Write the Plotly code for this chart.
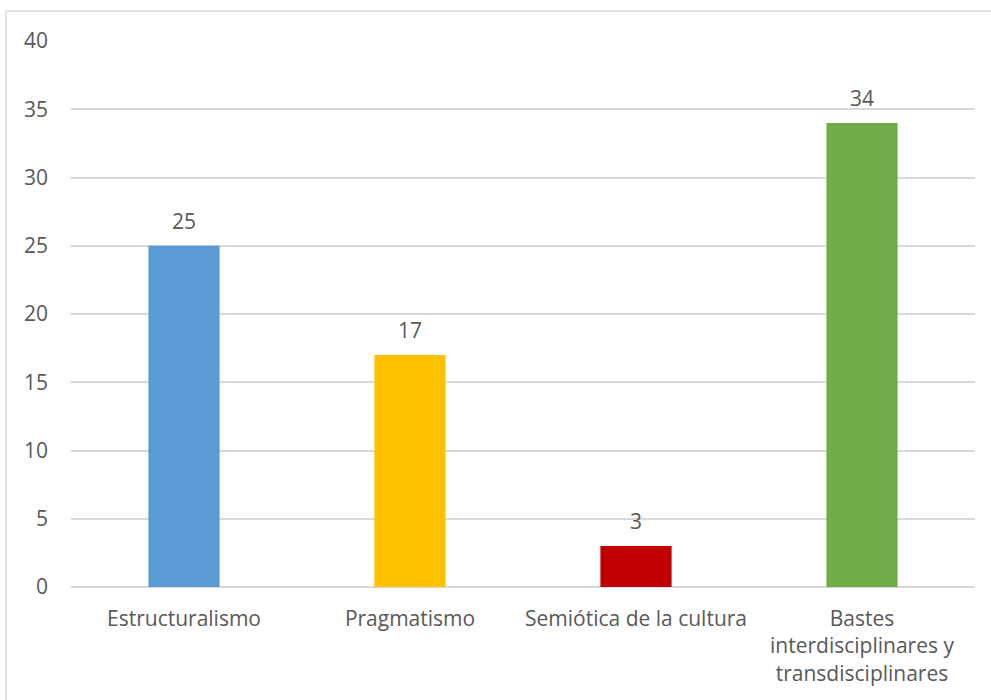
import plotly.graph_objects as go

categories = [
    "Estructuralismo",
    "Pragmatismo",
    "Semiótica de la cultura",
    "Bastes<br>interdisciplinares y<br>transdisciplinares",
]
values = [25, 17, 3, 34]
bar_colors = ["#5B9BD5", "#FFC000", "#C00000", "#70AD47"]
y_ticks = [0, 5, 10, 15, 20, 25, 30, 35, 40]

FONT = "Open Sans"
TEXT = "#595959"
SIZE = 21

fig = go.Figure()
fig.add_trace(go.Bar(
    x=categories,
    y=values,
    marker=dict(color=bar_colors, line=dict(width=0)),
    width=0.315,
    hoverinfo="x+y",
))

# value labels above each bar
for c, v in zip(categories, values):
    fig.add_annotation(
        x=c, y=v, text=str(v), showarrow=False,
        yanchor="bottom", yshift=9,
        font=dict(family=FONT, size=SIZE, color=TEXT),
    )

# outer chart frame
fig.add_shape(
    type="rect", xref="paper", yref="paper",
    x0=-0.0719, x1=1.2, y0=-0.4, y1=1.0549,
    line=dict(color="#D9D9D9", width=1.5),
    fillcolor="rgba(0,0,0,0)", layer="below",
)

fig.update_layout(
    width=991, height=700,
    margin=dict(l=71, r=16, t=41, b=113),
    paper_bgcolor="white", plot_bgcolor="white",
    showlegend=False,
    font=dict(family=FONT, size=SIZE, color=TEXT),
    bargap=0.685,
    xaxis=dict(
        showgrid=False, showline=False, ticks="",
        tickfont=dict(family=FONT, size=SIZE, color=TEXT),
        ticklabelstandoff=17,
    ),
    yaxis=dict(
        range=[0, 40], tickvals=y_ticks,
        showgrid=True, gridcolor="#D9D9D9", gridwidth=1.5,
        zeroline=True, zerolinecolor="#D9D9D9", zerolinewidth=1.5,
        showline=False, ticks="",
        tickfont=dict(family=FONT, size=SIZE, color=TEXT),
        ticklabelstandoff=22,
    ),
)

fig.write_html("out.html")
